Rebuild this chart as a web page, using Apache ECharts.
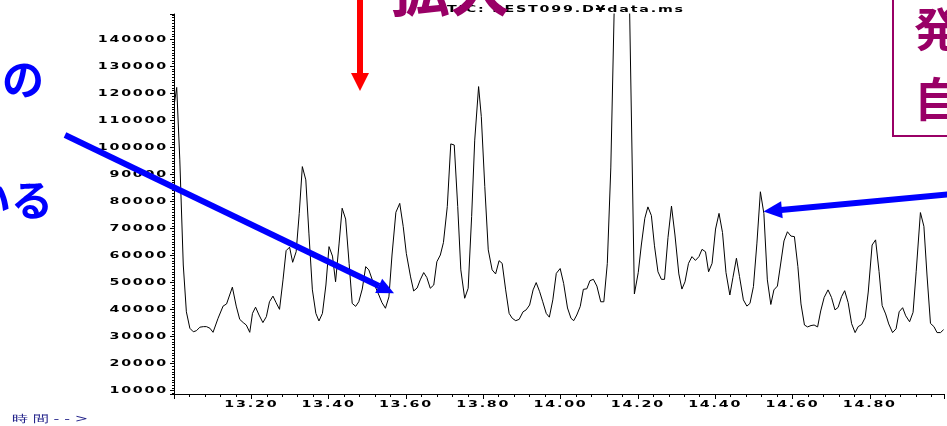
<!DOCTYPE html>
<html>
<head>
<meta charset="utf-8">
<script src="https://cdn.jsdelivr.net/npm/echarts@6.0.0/dist/echarts.min.js"></script>
<style>
html,body{margin:0;padding:0;background:#fff;}
#chart{width:947px;height:426px;}
</style>
</head>
<body>
<div id="chart"></div>
<script>
// ---- data (retention time in min, TIC abundance) ----
const times = [13.001,13.007,13.015,13.024,13.032,13.041,13.050,13.058,13.067,13.076,
13.084,13.093,13.101,13.114,13.127,13.136,13.151,13.161,13.170,13.179,
13.187,13.196,13.203,13.211,13.220,13.230,13.239,13.247,13.256,13.264,
13.273,13.282,13.290,13.299,13.307,13.316,13.324,13.332,13.341,13.349,
13.358,13.367,13.375,13.384,13.393,13.401,13.410,13.418,13.427,13.435,
13.444,13.453,13.461,13.470,13.478,13.487,13.496,13.504,13.513,13.521,
13.530,13.538,13.547,13.556,13.564,13.574,13.584,13.593,13.601,13.612,
13.620,13.629,13.637,13.646,13.654,13.663,13.672,13.680,13.689,13.697,
13.707,13.716,13.725,13.734,13.742,13.752,13.761,13.770,13.778,13.788,
13.795,13.804,13.813,13.823,13.832,13.841,13.849,13.858,13.867,13.875,
13.884,13.893,13.903,13.911,13.920,13.929,13.937,13.946,13.954,13.963,
13.971,13.980,13.989,13.999,14.008,14.018,14.027,14.034,14.042,14.051,
14.059,14.068,14.076,14.085,14.094,14.104,14.112,14.121,14.130,14.147,
14.155,14.164,14.172,14.191,14.201,14.209,14.218,14.226,14.235,14.243,
14.252,14.261,14.269,14.278,14.287,14.296,14.306,14.314,14.322,14.331,
14.340,14.349,14.358,14.366,14.375,14.383,14.392,14.401,14.410,14.419,
14.428,14.438,14.446,14.455,14.463,14.473,14.482,14.490,14.499,14.508,
14.517,14.526,14.535,14.544,14.552,14.561,14.569,14.578,14.587,14.596,
14.605,14.614,14.622,14.631,14.639,14.648,14.656,14.665,14.673,14.682,
14.692,14.701,14.710,14.718,14.727,14.735,14.744,14.753,14.762,14.770,
14.779,14.788,14.796,14.806,14.815,14.824,14.832,14.841,14.849,14.859,
14.868,14.876,14.885,14.893,14.903,14.912,14.920,14.931,14.940,14.948,
14.957,14.966,14.974,14.983,14.991];

const abundance = [116300,122200,95400,56500,39200,33100,31800,32200,33500,33700,
33700,33100,31600,36800,41300,42100,48300,41300,36400,35200,
34300,31600,38600,40900,38000,35200,37400,42900,45000,42600,
40100,51000,61800,63100,57500,61400,75600,92900,88000,68300,
47300,38600,35800,38600,49100,63300,59800,50300,64300,77500,
73500,57100,42300,41200,42900,47600,55900,54700,51000,48400,
45400,42600,40500,44700,60200,76000,79300,70700,60800,52100,
46900,48000,51000,53700,51900,47900,49100,57700,60200,64800,
78100,101300,100900,78100,54700,44200,47900,74400,102700,122500,
111400,85500,62100,54700,53200,58100,57100,47300,38600,36800,
35900,36400,39200,39900,41700,47300,50000,46600,42900,38600,
37200,43600,53400,55200,49700,40600,36800,35900,38000,41200,
47500,47700,50700,51200,48700,42900,42900,57100,92400,206000,
240000,236000,208000,45800,53700,63900,73800,78000,74800,63600,
54000,51200,51200,66700,78300,67600,53200,47600,50300,57100,
59600,58200,59600,62300,61400,54000,57100,69800,75600,68500,
53700,45400,51900,59000,52200,43600,41300,42300,48500,64600,
83600,75600,51000,41900,47300,48700,56500,65400,68800,67200,
67000,55900,42100,34300,33600,34100,34300,33600,39500,44500,
47300,44500,39900,40800,44800,47000,42600,34800,31500,33700,
34500,37000,46500,63900,65800,54100,41500,38400,34700,31500,
32900,39200,40700,37700,35500,39000,54000,75900,70800,52800,
34900,33700,31500,31500,32600];

const xRange = [13.0, 14.992];
const yRange = [8780, 149360];
const titleText = 'TIC: PEST099.D\u00A5data.ms';
const xAxisName = '時間-->';

// Emulate the horizontally stretched plotter font of the original printout
(function () {
  const P = CanvasRenderingContext2D.prototype;
  const orig = P.fillText;
  P.fillText = function (t, x, y, mw) {
    const f = this.font || '';
    if (f.indexOf('DejaVu Sans') >= 0) {
      const big = /(^|\s)10px/.test(f);
      this.save();
      try { this.letterSpacing = big ? '3px' : '1.2px'; } catch (e) {}
      this.translate(x, y);
      this.scale(big ? 1.6 : 1.5, 1);
      orig.call(this, t, 0, 0);
      this.restore();
      return;
    }
    return orig.apply(this, arguments);
  };
})();

const chart = echarts.init(document.getElementById('chart'), null, { renderer: 'canvas' });

const BLUE = '#0000ff';
const MAG = '#990066';
const stretched = { fontFamily: 'DejaVu Sans', fontWeight: 'bold', fontSize: 9.5, color: '#000' };

const option = {
  animation: false,
  backgroundColor: '#ffffff',
  grid: { left: 174, top: 14, right: 0, bottom: 32, containLabel: false },
  xAxis: {
    type: 'value',
    min: xRange[0], max: xRange[1], interval: 0.2,
    axisLine: { show: true, lineStyle: { color: '#000', width: 1 } },
    axisTick: { show: true, length: 5, lineStyle: { color: '#000', width: 1 } },
    minorTick: { show: true, splitNumber: 5, length: 3, lineStyle: { color: '#000', width: 1 } },
    splitLine: { show: false },
    axisLabel: Object.assign({}, stretched, {
      margin: 6,
      formatter: function (v) {
        const k = v / 0.2;
        if (v > 13.01 && Math.abs(k - Math.round(k)) < 1e-6) return v.toFixed(2);
        return '';
      }
    })
  },
  yAxis: {
    type: 'value',
    min: yRange[0], max: yRange[1], splitNumber: 14,
    axisLine: { show: true, lineStyle: { color: '#000', width: 1 } },
    axisTick: { show: true, length: 4, lineStyle: { color: '#000', width: 1 } },
    minorTick: { show: true, splitNumber: 10, length: 2, lineStyle: { color: '#000', width: 1 } },
    splitLine: { show: false },
    axisLabel: Object.assign({}, stretched, {
      margin: 6,
      formatter: function (v) {
        return (v % 10000 === 0 && v >= 10000 && v <= 140000) ? String(v) : '';
      }
    })
  },
  series: [{
    type: 'line',
    data: times.map(function (t, i) { return [t, abundance[i]]; }),
    showSymbol: false,
    symbol: 'none',
    clip: true,
    lineStyle: { color: '#000', width: 1 },
    z: 2
  }],
  graphic: { elements: [
    { type: 'text', x: 566, y: 10, z: 50,
      style: { text: titleText, fill: '#000', fontFamily: 'DejaVu Sans', fontWeight: 'bold', fontSize: 9.5,
               align: 'center', verticalAlign: 'middle', textAlign: 'center', textVerticalAlign: 'middle' } },
    { type: 'text', x: 12, y: 419.5, z: 50,
      style: { text: xAxisName, fill: '#22228a', fontFamily: 'DejaVu Sans', fontWeight: 'normal', fontSize: 10,
               align: 'left', verticalAlign: 'middle', textAlign: 'left', textVerticalAlign: 'middle' } },
    // magenta heading fragment
    { type: 'text', x: 390, y: -12, z: 60,
      style: { text: '拡大', fill: MAG, fontFamily: 'Noto Sans CJK JP', fontWeight: 'bold', fontSize: 60,
               align: 'left', verticalAlign: 'middle', textAlign: 'left', textVerticalAlign: 'middle' } },
    // red arrow
    { type: 'rect', z: 60, shape: { x: 357, y: -5, width: 6, height: 79 }, style: { fill: '#ff0000' } },
    { type: 'polygon', z: 60, shape: { points: [[351, 73], [369, 73], [360, 91]] }, style: { fill: '#ff0000' } },
    // blue arrow 1
    { type: 'line', z: 60, shape: { x1: 65, y1: 135, x2: 379, y2: 286 }, style: { stroke: BLUE, lineWidth: 6 } },
    { type: 'polygon', z: 60, shape: { points: [[394, 293.3], [375.2, 293.1], [382.2, 278.7]] }, style: { fill: BLUE } },
    // blue arrow 2
    { type: 'line', z: 60, shape: { x1: 950, y1: 194.2, x2: 781, y2: 209.9 }, style: { stroke: BLUE, lineWidth: 6 } },
    { type: 'polygon', z: 60, shape: { points: [[763.5, 211.5], [781.1, 201.3], [782.7, 218.3]] }, style: { fill: BLUE } },
    // blue side text fragments
    { type: 'text', x: 2, y: 79, z: 60,
      style: { text: 'の', fill: BLUE, fontFamily: 'Noto Sans CJK JP', fontWeight: 'bold', fontSize: 42,
               align: 'left', verticalAlign: 'middle', textAlign: 'left', textVerticalAlign: 'middle' } },
    { type: 'text', x: -31, y: 200, z: 60,
      style: { text: 'いる', fill: BLUE, fontFamily: 'Noto Sans CJK JP', fontWeight: 'bold', fontSize: 42,
               align: 'left', verticalAlign: 'middle', textAlign: 'left', textVerticalAlign: 'middle' } },
    // magenta box on the right
    { type: 'rect', z: 60, shape: { x: 893, y: -10, width: 90, height: 146 },
      style: { fill: 'none', stroke: MAG, lineWidth: 2 } },
    { type: 'text', x: 914, y: 29, z: 60,
      style: { text: '発', fill: MAG, fontFamily: 'Noto Sans CJK JP', fontWeight: 'bold', fontSize: 46,
               align: 'left', verticalAlign: 'middle', textAlign: 'left', textVerticalAlign: 'middle' } },
    { type: 'text', x: 914, y: 99, z: 60,
      style: { text: '自', fill: MAG, fontFamily: 'Noto Sans CJK JP', fontWeight: 'bold', fontSize: 46,
               align: 'left', verticalAlign: 'middle', textAlign: 'left', textVerticalAlign: 'middle' } }
  ] }
};

chart.setOption(option);
</script>
</body>
</html>
